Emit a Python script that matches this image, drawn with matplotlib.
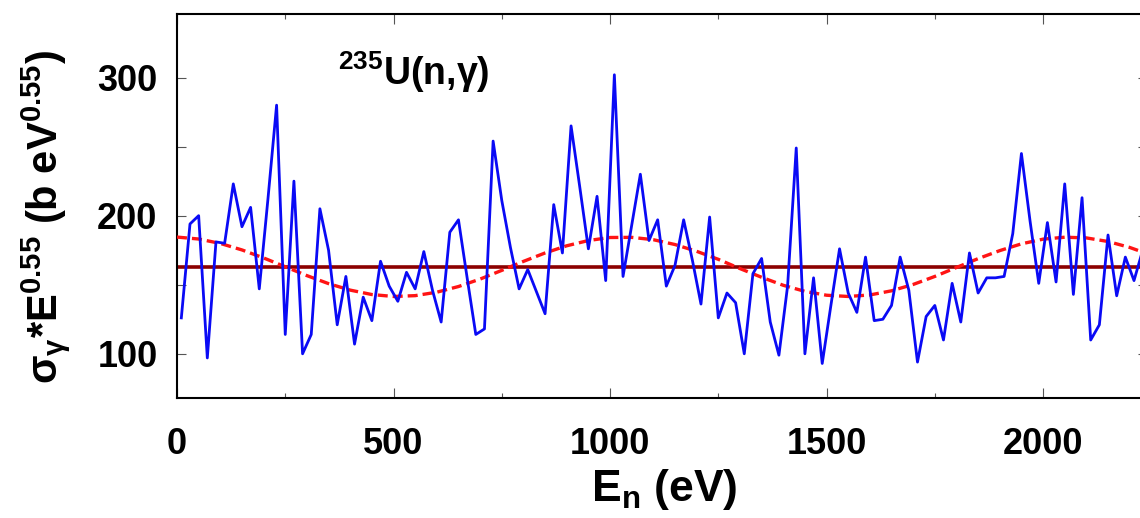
import matplotlib
matplotlib.use('Agg')
import matplotlib.pyplot as plt
from matplotlib.ticker import MultipleLocator

# measured sigma*E^0.55, one point every 20 eV starting at 10 eV
en_start = 10
en_step = 20
sigma_e = [126, 194, 200, 97, 181, 180, 223, 192, 206, 147,
           212, 280, 114, 225, 100, 114, 205, 175, 121, 156,
           107, 141, 124, 167, 149, 138, 159, 147, 174, 146,
           123, 188, 197, 155, 114, 118, 254, 211, 177, 147,
           161, 145, 129, 208, 173, 265, 221, 176, 214, 153,
           302, 156, 193, 230, 182, 197, 149, 164, 197, 168,
           136, 199, 126, 144, 137, 100, 158, 169, 123, 99,
           149, 249, 100, 155, 93, 135, 176, 144, 130, 170,
           124, 125, 135, 170, 146, 94, 127, 135, 110, 151,
           123, 173, 144, 155, 155, 156, 187, 245, 196, 151,
           195, 152, 223, 143, 213, 110, 121, 186, 142, 170,
           153, 175]
en = [en_start + en_step * i for i in range(len(sigma_e))]

# periodic fit (red dashed), read every 50 eV
fit_en = list(range(0, 2251, 50))
fit_val = [184.5, 183.1, 179.9, 175.2, 169.4, 163.0, 156.6, 150.8, 146.1, 142.9,
           141.5, 142.1, 144.6, 148.7, 154.1, 160.4, 166.9, 173.0, 178.2, 182.0,
           184.2, 184.3, 182.6, 179.1, 174.2, 168.4, 161.7, 155.4, 149.6, 145.2,
           142.4, 141.5, 142.6, 145.6, 150.2, 156.0, 162.5, 168.9, 174.7, 179.6,
           183.0, 184.4, 183.9, 181.3, 177.0, 171.4]

mean_val = 162.5

plt.rcParams['font.family'] = ['Liberation Sans', 'DejaVu Sans']
plt.rcParams['font.weight'] = 'bold'
plt.rcParams['mathtext.fontset'] = 'custom'
plt.rcParams['mathtext.rm'] = 'Liberation Sans:bold'
plt.rcParams['mathtext.bf'] = 'Liberation Sans:bold'
plt.rcParams['mathtext.it'] = 'Liberation Sans:italic:bold'

fig = plt.figure(figsize=(11.4, 5.18), dpi=100)
ax = fig.add_axes([177 / 1140, 120 / 518, 970 / 1140, 384 / 518])

ax.axhline(mean_val, color='#8b0000', lw=2.6, zorder=2)
ax.plot(fit_en, fit_val, color='#ff1414', lw=2.4, dashes=(3.0, 1.5), zorder=3)
ax.plot(en, sigma_e, color='#0a0af5', lw=2.0, zorder=4)

ax.set_xlim(0, 2240)
ax.set_ylim(68, 346)
ax.xaxis.set_major_locator(MultipleLocator(500))
ax.xaxis.set_minor_locator(MultipleLocator(250))
ax.yaxis.set_major_locator(MultipleLocator(100))
ax.yaxis.set_minor_locator(MultipleLocator(50))

ax.tick_params(which='both', direction='in', top=True, right=True,
               width=0.8, color='#555555')
ax.tick_params(axis='x', which='major', length=7, pad=21, labelsize=26)
ax.tick_params(axis='x', which='minor', length=3.5)
ax.tick_params(axis='y', which='both', length=6.5)
ax.tick_params(axis='y', which='major', pad=14, labelsize=26)
for s in ax.spines.values():
    s.set_linewidth(1.5)

ax.set_xlabel(r'E$_\mathregular{n}$ (eV)', fontsize=32, fontweight='bold')
ax.xaxis.set_label_coords(0.502, -0.18)
ax.set_ylabel(r'$\mathrm{\sigma_\gamma}$*E$^\mathregular{0.55}$ (b eV$^\mathregular{0.55}$)',
              fontsize=30, fontweight='bold')
ax.yaxis.set_label_coords(-0.108, 0.47)

ax.text(372, 294.7, r'$^\mathregular{235}$U(n,$\mathrm{\gamma}$)', fontsize=27,
        fontweight='bold', ha='left', va='baseline')

fig.savefig('out.png', dpi=100)
